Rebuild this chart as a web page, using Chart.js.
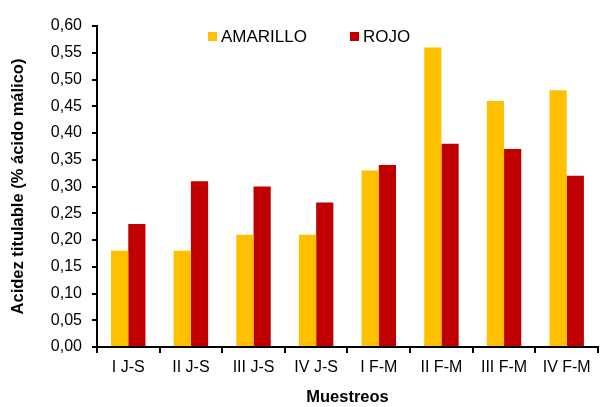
<!DOCTYPE html>
<html>
<head>
<meta charset="utf-8">
<script src="https://cdn.jsdelivr.net/npm/chart.js@4"></script>
<style>
  html, body { margin: 0; padding: 0; background: #fff; }
  #wrap { width: 603px; height: 407px; }
</style>
</head>
<body>
<div id="wrap"><canvas id="acidezChart"></canvas></div>
<script>
// Data
var muestreos = ['I J-S', 'II J-S', 'III J-S', 'IV J-S', 'I F-M', 'II F-M', 'III F-M', 'IV F-M'];
var amarillo = [0.18, 0.18, 0.21, 0.21, 0.33, 0.56, 0.46, 0.48];
var rojo = [0.23, 0.31, 0.30, 0.27, 0.34, 0.38, 0.37, 0.32];

Chart.defaults.font.family = '"Liberation Sans", Arial, sans-serif';
Chart.defaults.color = '#000';

// Simple legend drawn inside the plot, like the original
var insideLegend = {
    id: 'insideLegend',
    afterDraw: function (chart) {
        var ctx = chart.ctx;
        var items = [
            { text: 'AMARILLO', color: '#FFC000', x: 208 },
            { text: 'ROJO', color: '#C00000', x: 350 }
        ];
        ctx.save();
        ctx.font = '17px "Liberation Sans", Arial, sans-serif';
        ctx.textBaseline = 'middle';
        items.forEach(function (it) {
            ctx.fillStyle = it.color;
            ctx.fillRect(it.x, 32, 9, 9);
            ctx.fillStyle = '#000';
            ctx.fillText(it.text, it.x + 13, 37);
        });
        ctx.restore();
    }
};

var acidezChart = new Chart(document.getElementById('acidezChart').getContext('2d'), {
    type: 'bar',
    data: {
        labels: muestreos,
        datasets: [
            {
                label: 'AMARILLO',
                data: amarillo,
                backgroundColor: '#FFC000',
                barPercentage: 1,
                categoryPercentage: 0.55
            },
            {
                label: 'ROJO',
                data: rojo,
                backgroundColor: '#C00000',
                barPercentage: 1,
                categoryPercentage: 0.55
            }
        ]
    },
    options: {
        responsive: true,
        maintainAspectRatio: false,
        animation: false,
        layout: { padding: { left: 9, right: 5, top: 26, bottom: 0 } },
        scales: {
            x: {
                grid: {
                    drawOnChartArea: false,
                    drawTicks: true,
                    tickLength: 6,
                    color: '#000',
                    lineWidth: 2
                },
                border: { color: '#000', width: 2 },
                ticks: { font: { size: 16 }, padding: 5 },
                title: {
                    display: true,
                    text: 'Muestreos',
                    font: { size: 16.5, weight: 'bold' },
                    padding: { top: 5, bottom: 0 }
                }
            },
            y: {
                min: 0,
                max: 0.6,
                grid: {
                    drawOnChartArea: false,
                    drawTicks: true,
                    tickLength: 5,
                    color: '#000',
                    lineWidth: 2
                },
                border: { color: '#000', width: 2 },
                ticks: {
                    stepSize: 0.05,
                    font: { size: 16 },
                    padding: 10,
                    callback: function (value) {
                        return value.toFixed(2).replace('.', ',');
                    }
                },
                title: {
                    display: true,
                    text: 'Acidez titulable (% ácido málico)',
                    font: { size: 16.5, weight: 'bold' },
                    padding: { top: 0, bottom: 12 }
                }
            }
        },
        plugins: {
            legend: { display: false },
            tooltip: { enabled: false }
        }
    },
    plugins: [insideLegend]
});
</script>
</body>
</html>
